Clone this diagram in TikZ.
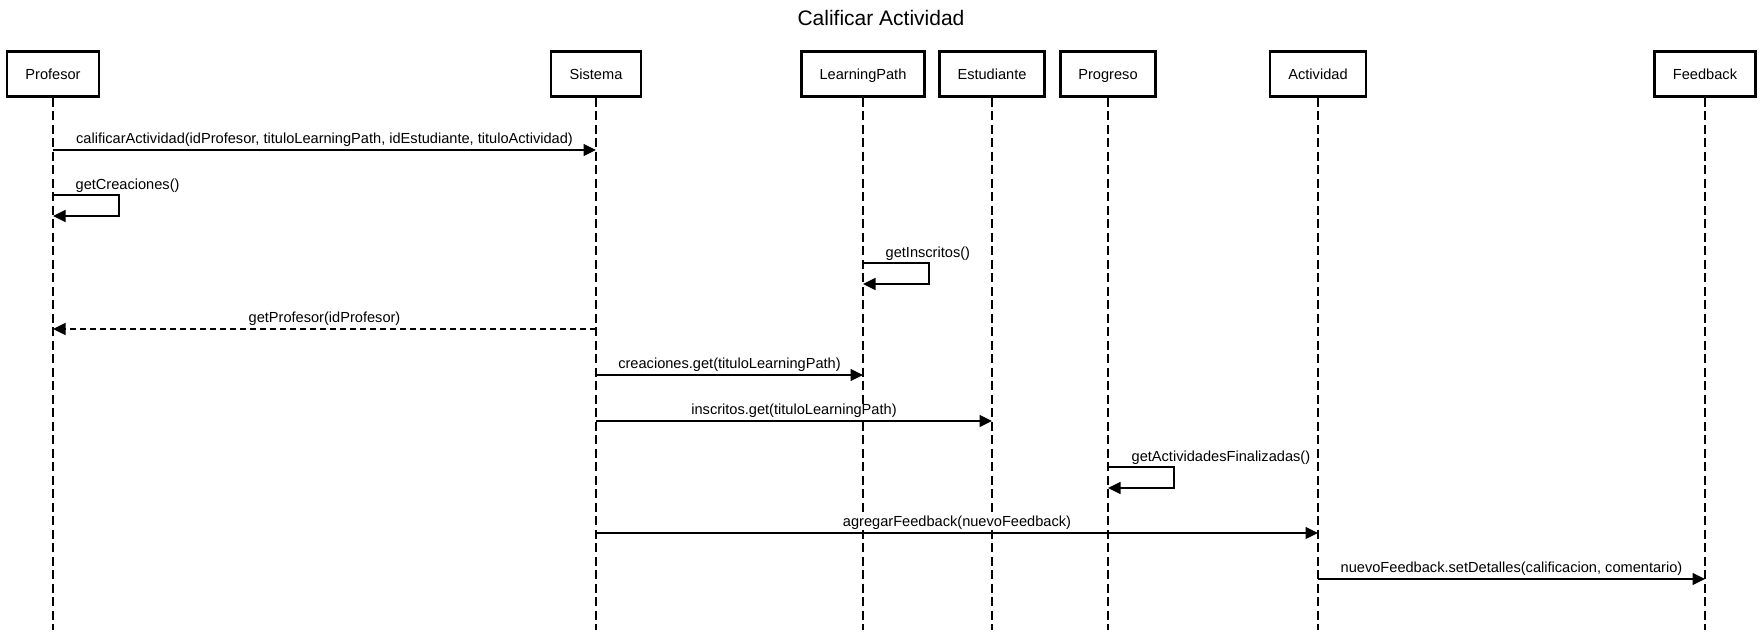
\documentclass[tikz,border=0pt]{standalone}
\usepackage{fontspec}
\setmainfont{Liberation Sans}
\usetikzlibrary{arrows.meta}
\begin{document}
\begin{tikzpicture}[x=1pt,y=-1pt,
 actor/.style={draw, line width=2.4pt, minimum height=45pt, inner sep=0pt, text height=11pt, text depth=0pt, font=\fontsize{14.6}{16}\selectfont, fill=white},
 life/.style={line width=1.2pt, dash pattern=on 9pt off 4.5pt},
 msg/.style={line width=1.3pt, -{Triangle[length=12.5pt,width=12pt]}},
 ret/.style={msg, dash pattern=on 6pt off 4pt},
 lbl/.style={font=\fontsize{14.6}{16}\selectfont, inner sep=0pt, fill=white},
]
\useasboundingbox (0,0) rectangle (1762,636);
\node[font=\fontsize{21}{24}\selectfont] (title) at (881,18) {Calificar Actividad};

% lifeline ends
\coordinate (profE) at (53,630);
\coordinate (sisE) at (596,630);
\coordinate (lpE) at (863,630);
\coordinate (estE) at (992,630);
\coordinate (progE) at (1108,630);
\coordinate (actE) at (1318,630);
\coordinate (feedE) at (1705,630);

\node[actor, minimum width=92pt] (prof) at (53,74) {Profesor};
\node[actor, minimum width=90pt] (sis) at (596,74) {Sistema};
\node[actor, minimum width=123pt] (lp) at (863,74) {LearningPath};
\node[actor, minimum width=105pt] (est) at (992,74) {Estudiante};
\node[actor, minimum width=95pt] (prog) at (1108,74) {Progreso};
\node[actor, minimum width=96pt] (act) at (1318,74) {Actividad};
\node[actor, minimum width=101pt] (feed) at (1705,74) {Feedback};

\draw[life] (prof.south) -- (profE);
\draw[life] (sis.south) -- (sisE);
\draw[life] (lp.south) -- (lpE);
\draw[life] (est.south) -- (estE);
\draw[life] (prog.south) -- (progE);
\draw[life] (act.south) -- (actE);
\draw[life] (feed.south) -- (feedE);

% message anchor points
\coordinate (m1a) at (53,150);   \coordinate (m1b) at (596,150);
\coordinate (s1a) at (53,195);   \coordinate (s1b) at (53,216);
\coordinate (s2a) at (863,263);  \coordinate (s2b) at (863,284);
\coordinate (m4a) at (596,329);  \coordinate (m4b) at (53,329);
\coordinate (m5a) at (596,375);  \coordinate (m5b) at (863,375);
\coordinate (m6a) at (596,421);  \coordinate (m6b) at (992,421);
\coordinate (s3a) at (1108,467); \coordinate (s3b) at (1108,488);
\coordinate (m8a) at (596,533);  \coordinate (m8b) at (1318,533);
\coordinate (m9a) at (1318,579); \coordinate (m9b) at (1705,579);

\draw[msg] (m1a) -- node[lbl, midway, yshift=10.5pt] {calificarActividad(idProfesor, tituloLearningPath, idEstudiante, tituloActividad)} (m1b);
\draw[msg] (s1a) node[lbl, anchor=west, xshift=22pt, yshift=9.5pt] {getCreaciones()} -- ++(66,0) |- (s1b);
\draw[msg] (s2a) node[lbl, anchor=west, xshift=22pt, yshift=9.5pt] {getInscritos()} -- ++(66,0) |- (s2b);
\draw[ret] (m4a) -- node[lbl, midway, yshift=10pt] {getProfesor(idProfesor)} (m4b);
\draw[msg] (m5a) -- node[lbl, midway, yshift=10pt] {creaciones.get(tituloLearningPath)} (m5b);
\draw[msg] (m6a) -- node[lbl, midway, yshift=10pt] {inscritos.get(tituloLearningPath)} (m6b);
\draw[msg] (s3a) node[lbl, anchor=west, xshift=23pt, yshift=9.5pt] {getActividadesFinalizadas()} -- ++(66,0) |- (s3b);
\draw[msg] (m8a) -- node[lbl, midway, yshift=10pt] {agregarFeedback(nuevoFeedback)} (m8b);
\draw[msg] (m9a) -- node[lbl, midway, yshift=10pt] {nuevoFeedback.setDetalles(calificacion, comentario)} (m9b);
\end{tikzpicture}
\end{document}
